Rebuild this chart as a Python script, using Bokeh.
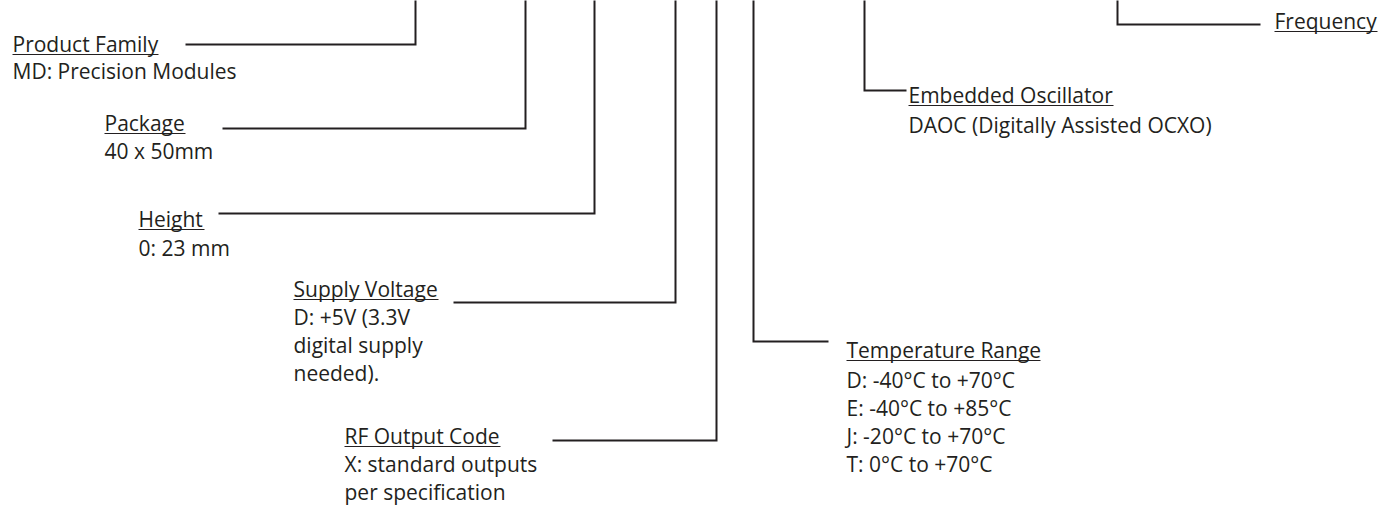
from bokeh.plotting import figure
from bokeh.models import Range1d
from bokeh.core.properties import value
from bokeh.embed import file_html
from bokeh.resources import INLINE

# ---- content -------------------------------------------------------------
titles = ["Product Family", "Package", "Height", "Supply Voltage",
          "RF Output Code", "Temperature Range", "Embedded Oscillator", "Frequency"]
descriptions = [
    ["MD: Precision Modules"],
    ["40 x 50mm"],
    ["0: 23 mm"],
    ["D: +5V (3.3V", "digital supply", "needed)."],
    ["X: standard outputs", "per specification"],
    ["D: -40°C to +70°C", "E: -40°C to +85°C", "J: -20°C to +70°C", "T: 0°C to +70°C"],
    ["DAOC (Digitally Assisted OCXO)"],
    [],
]

# ---- layout (pixel coordinates of the drawing, y downwards) --------------
title_x = [12, 104, 138, 293, 344, 846, 908, 1274]
title_base = [51, 130, 226, 296, 443, 357, 102, 28]
desc_base = [78, 158, 255, 324, 471, 387, 132, 0]
title_w = [146, 81, 66, 145, 156, 194, 205, 103]
lead_end_x = [185, 222, 218, 453, 552, 828, 906, 1260]
lead_y = [44, 128, 213, 302, 440, 341, 90, 24]
vert_x = [415, 525, 594, 675, 716, 753, 864, 1117]

LINE_STEP = 28
INK = "#231f20"
FONT = value("Open Sans")
SIZE = "21px"
MID = 8  # distance from baseline to the text's middle

W, H = 1380, 506
p = figure(width=W, height=H, output_backend="svg", toolbar_location=None,
           x_range=Range1d(0, W), y_range=Range1d(H, 0),
           x_axis_type=None, y_axis_type=None, min_border=0,
           background_fill_color="white", border_fill_color="white")
p.grid.visible = False
p.outline_line_color = None

# leader lines: horizontal from the text to its column, then up to the top
xs, ys = [], []
for lx, ly, vx in zip(lead_end_x, lead_y, vert_x):
    xs.append([lx, vx, vx])
    ys.append([ly, ly, -20])
p.multi_line(xs, ys, line_color=INK, line_width=2, line_join="miter")

# titles
p.text(x=title_x, y=[b - MID for b in title_base], text=titles, text_font=FONT,
       text_font_size=SIZE, text_color=INK, text_baseline="middle", text_align="left")

# underlines of titles
p.segment(x0=title_x, y0=[b + 3 for b in title_base],
          x1=[x + w for x, w in zip(title_x, title_w)], y1=[b + 3 for b in title_base],
          line_color=INK, line_width=1)

# descriptions
dx, dy, dt = [], [], []
for tx, b0, lines in zip(title_x, desc_base, descriptions):
    for k, line in enumerate(lines):
        dx.append(tx)
        dy.append(b0 + k * LINE_STEP - MID)
        dt.append(line)
p.text(x=dx, y=dy, text=dt, text_font=FONT, text_font_size=SIZE,
       text_color=INK, text_baseline="middle", text_align="left")

open("out.html", "w").write(file_html(p, INLINE))
